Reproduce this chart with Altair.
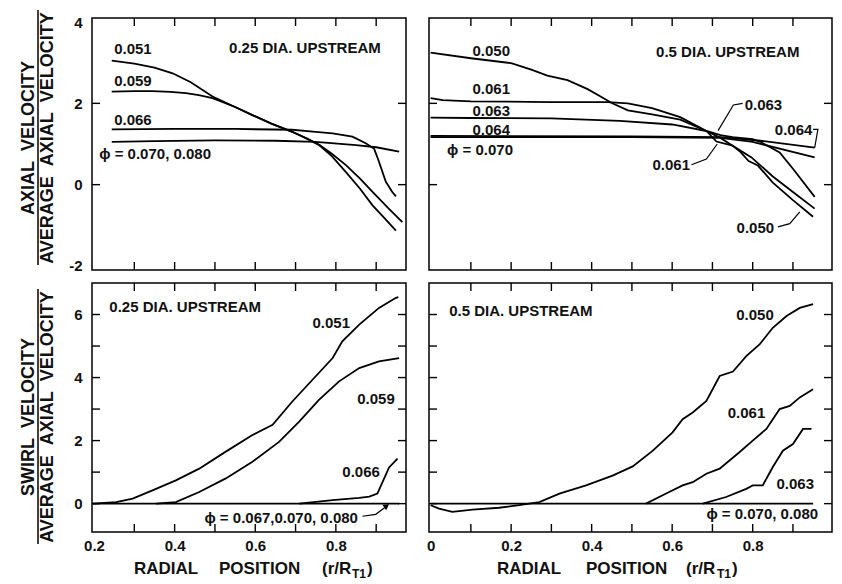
import altair as alt
import pandas as pd

FONT = "Liberation Sans"
NB = "\u00a0"

# ---------------- data: top-left (axial, 0.25 dia upstream) ----------------
tl_051_x = [0.244, 0.30, 0.35, 0.395, 0.44, 0.494, 0.55, 0.593, 0.64, 0.692, 0.73, 0.759, 0.79, 0.825, 0.86, 0.891, 0.92, 0.949]
tl_051_y = [3.05, 2.98, 2.88, 2.74, 2.52, 2.17, 1.91, 1.71, 1.50, 1.30, 1.12, 0.97, 0.70, 0.31, -0.10, -0.51, -0.82, -1.13]
tl_059_x = [0.244, 0.30, 0.345, 0.39, 0.428, 0.46, 0.494, 0.55, 0.593, 0.64, 0.692, 0.73, 0.759, 0.79, 0.825, 0.86, 0.891, 0.93, 0.965]
tl_059_y = [2.29, 2.30, 2.30, 2.28, 2.25, 2.20, 2.13, 1.91, 1.71, 1.50, 1.30, 1.13, 0.98, 0.76, 0.48, 0.15, -0.18, -0.58, -0.92]
tl_066_x = [0.244, 0.40, 0.55, 0.692, 0.75, 0.792, 0.841, 0.874, 0.895, 0.905, 0.924, 0.94, 0.949]
tl_066_y = [1.36, 1.37, 1.37, 1.35, 1.30, 1.26, 1.18, 1.02, 0.88, 0.62, 0.07, -0.18, -0.29]
tl_070_x = [0.244, 0.35, 0.50, 0.65, 0.75, 0.85, 0.90, 0.957]
tl_070_y = [1.05, 1.07, 1.09, 1.08, 1.05, 0.97, 0.92, 0.81]

# ---------------- data: top-right (axial, 0.5 dia upstream) ----------------
tr_050_x = [0.0, 0.10, 0.20, 0.25, 0.29, 0.34, 0.39, 0.42, 0.45, 0.49, 0.55, 0.62, 0.685, 0.72, 0.75, 0.77, 0.79, 0.813, 0.85, 0.90, 0.95]
tr_050_y = [3.25, 3.11, 2.99, 2.83, 2.68, 2.57, 2.35, 2.18, 2.01, 1.83, 1.73, 1.60, 1.32, 1.15, 0.96, 0.80, 0.58, 0.47, 0.05, -0.38, -0.79]
tr_061_x = [0.0, 0.03, 0.10, 0.30, 0.44, 0.49, 0.55, 0.62, 0.685, 0.71, 0.75, 0.797, 0.85, 0.90, 0.954]
tr_061_y = [2.13, 2.08, 2.05, 2.03, 2.03, 2.00, 1.88, 1.66, 1.32, 1.06, 0.96, 0.67, 0.20, -0.18, -0.59]
tr_063_x = [0.0, 0.10, 0.30, 0.47, 0.60, 0.685, 0.72, 0.75, 0.80, 0.82, 0.867, 0.90, 0.954]
tr_063_y = [1.65, 1.64, 1.63, 1.57, 1.48, 1.32, 1.22, 1.17, 1.12, 1.05, 0.79, 0.39, -0.30]
tr_064_x = [0.0, 0.50, 0.72, 0.82, 0.954]
tr_064_y = [1.20, 1.19, 1.17, 1.08, 0.91]
tr_070_x = [0.0, 0.50, 0.72, 0.80, 0.954]
tr_070_y = [1.17, 1.17, 1.15, 1.05, 0.67]

# ---------------- data: bottom-left (swirl, 0.25 dia upstream) ----------------
bl_051_x = [0.197, 0.255, 0.296, 0.345, 0.403, 0.461, 0.527, 0.593, 0.643, 0.692, 0.742, 0.792, 0.816, 0.858, 0.907, 0.949, 0.955]
bl_051_y = [0.0, 0.05, 0.16, 0.42, 0.74, 1.11, 1.65, 2.18, 2.50, 3.24, 3.93, 4.62, 5.15, 5.68, 6.21, 6.53, 6.55]
bl_059_x = [0.354, 0.403, 0.461, 0.527, 0.593, 0.659, 0.709, 0.758, 0.808, 0.858, 0.907, 0.957]
bl_059_y = [0.0, 0.05, 0.37, 0.80, 1.33, 1.96, 2.60, 3.29, 3.88, 4.30, 4.51, 4.62]
bl_066_x = [0.709, 0.792, 0.858, 0.883, 0.903, 0.916, 0.932, 0.953]
bl_066_y = [0.0, 0.11, 0.18, 0.22, 0.32, 0.69, 1.15, 1.43]
bl_067_x = [0.197, 0.957]
bl_067_y = [0.0, 0.0]

# ---------------- data: bottom-right (swirl, 0.5 dia upstream) ----------------
br_050_x = [0.0, 0.021, 0.054, 0.104, 0.17, 0.22, 0.27, 0.32, 0.386, 0.452, 0.502, 0.552, 0.601, 0.626, 0.651, 0.685, 0.718, 0.751, 0.784, 0.817, 0.85, 0.884, 0.917, 0.95]
br_050_y = [-0.05, -0.16, -0.26, -0.19, -0.13, -0.05, 0.05, 0.32, 0.58, 0.89, 1.18, 1.68, 2.26, 2.68, 2.89, 3.26, 4.05, 4.19, 4.68, 5.05, 5.58, 5.95, 6.21, 6.33]
br_061_x = [0.535, 0.585, 0.626, 0.651, 0.685, 0.718, 0.767, 0.80, 0.834, 0.867, 0.892, 0.917, 0.95]
br_061_y = [0.0, 0.32, 0.58, 0.68, 0.95, 1.11, 1.63, 2.00, 2.37, 3.00, 3.10, 3.37, 3.63]
br_063_x = [0.676, 0.734, 0.784, 0.80, 0.825, 0.85, 0.875, 0.90, 0.925, 0.946]
br_063_y = [0.0, 0.21, 0.47, 0.58, 0.58, 1.16, 1.68, 1.89, 2.37, 2.37]
br_070_x = [0.0, 0.95]
br_070_y = [0.0, 0.0]

# ---------------- annotation texts (text, x, y in data units) ----------------
tl_labels = [("0.051", 0.25, 3.34), ("0.059", 0.25, 2.54), ("0.066", 0.25, 1.60),
             ("\u03d5 = 0.070, 0.080", 0.213, 0.76), ("0.25 DIA. UPSTREAM", 0.535, 3.35)]
tr_labels = [("0.050", 0.104, 3.28), ("0.061", 0.104, 2.35), ("0.063", 0.104, 1.82),
             ("0.064", 0.104, 1.35), ("\u03d5 = 0.070", 0.041, 0.85), ("0.5 DIA. UPSTREAM", 0.56, 3.26),
             ("0.063", 0.78, 1.96), ("0.061", 0.551, 0.49), ("0.064", 0.855, 1.35), ("0.050", 0.76, -1.06)]
bl_labels = [("0.25 DIA. UPSTREAM", 0.238, 6.24), ("0.051", 0.742, 5.73), ("0.059", 0.853, 3.32),
             ("0.066", 0.816, 1.01), ("\u03d5 = 0.067,0.070, 0.080", 0.474, -0.45)]
br_labels = [("0.5 DIA. UPSTREAM", 0.046, 6.10), ("0.050", 0.759, 5.97), ("0.061", 0.738, 2.87),
             ("0.063", 0.859, 0.63), ("\u03d5 = 0.070, 0.080", 0.685, -0.34)]

# leader lines (data units)
tr_leaders = [("a", [0.775, 0.752, 0.714], [2.00, 1.96, 1.33]),
              ("b", [0.648, 0.685, 0.712], [0.49, 0.63, 1.00]),
              ("c", [0.950, 0.962, 0.954], [1.36, 1.36, 0.91]),
              ("d", [0.863, 0.892, 0.917], [-1.04, -0.96, -0.67])]
bl_leaders = [("a", [0.866, 0.899, 0.924], [-0.40, -0.34, -0.10])]
bl_arrow = [(0.926, -0.07)]

# axis ticks / labels
x_ticks_left = [0.3, 0.4, 0.5, 0.6, 0.7, 0.8, 0.9]
x_ticks_right = [0.1, 0.2, 0.3, 0.4, 0.5, 0.6, 0.7, 0.8, 0.9]
x_labels_left = [0.2, 0.4, 0.6, 0.8]
x_labels_right = [0.0, 0.2, 0.4, 0.6, 0.8, 1.0]
y_ticks_top = [0, 2]
y_labels_top = [-2, 0, 2, 4]
y_ticks_bottom = [0, 1, 2, 3, 4, 5, 6]
y_labels_bottom = [0, 2, 4, 6]

x_dom_left = [0.195, 0.974]
x_dom_right = [-0.004, 0.997]
y_dom_top = [-2.1, 4.1]
y_dom_bottom = [-0.9, 7.0]

title_top = ["AXIAL" + NB * 2 + "VELOCITY", "AVERAGE" + NB * 2 + "AXIAL" + NB * 2 + "VELOCITY"]
title_bottom = ["SWIRL" + NB * 2 + "VELOCITY", "AVERAGE" + NB * 2 + "AXIAL" + NB * 2 + "VELOCITY"]
x_title_parts = [("RADIAL", 0), ("POSITION", 1), ("(r/R", 2), ("T1", 3), (")", 4)]


def curves_df(curves):
    rows = []
    for name, xs, ys in curves:
        for i, (a, b) in enumerate(zip(xs, ys)):
            rows.append({"series": name, "i": i, "x": a, "y": b})
    return pd.DataFrame(rows)


def panel(curves, labels, leaders, xdom, ydom, w, h, xticks, yticks,
          xlabels=None, ylabels=None, ytitle=None, xtitle_pos=None, flush=False,
          arrow=None):
    xs = alt.Scale(domain=xdom, nice=False, zero=False)
    ys = alt.Scale(domain=ydom, nice=False, zero=False)
    if xlabels is None:
        xa = None
    else:
        xa = alt.Axis(values=xlabels, ticks=False, domain=False, grid=False, title=None,
                      labelPadding=6, labelFlush=flush, labelFont=FONT, labelFontSize=15,
                      labelFontWeight="bold", labelColor="#111",
                      labelExpr="datum.value == 0 ? '0' : format(datum.value, '.1f')")
    if ylabels is None:
        ya = None
    else:
        ya = alt.Axis(values=ylabels, ticks=False, domain=False, grid=False, title=None,
                      labelPadding=10, labelFont=FONT, labelFontSize=15, labelFontWeight="bold",
                      labelColor="#111", labelExpr="'' + datum.value")

    def X(f="x"):
        return alt.X(f + ":Q", scale=xs, axis=xa)

    def Y(f="y"):
        return alt.Y(f + ":Q", scale=ys, axis=ya)

    layers = []
    layers.append(alt.Chart(curves_df(curves)).mark_line(color="black", strokeWidth=1.8)
                  .encode(x=X(), y=Y(), detail="series:N", order="i:Q"))
    if leaders:
        layers.append(alt.Chart(curves_df(leaders)).mark_line(color="black", strokeWidth=1.2)
                      .encode(x=X(), y=Y(), detail="series:N", order="i:Q"))
    if arrow:
        adf = pd.DataFrame({"x": [a[0] for a in arrow], "y": [a[1] for a in arrow]})
        layers.append(alt.Chart(adf).mark_point(shape="triangle-up", filled=True, color="black",
                                                size=45, angle=55, opacity=1)
                      .encode(x=X(), y=Y()))
    ldf = pd.DataFrame({"t": [l[0] for l in labels], "x": [l[1] for l in labels],
                        "y": [l[2] for l in labels]})
    layers.append(alt.Chart(ldf).mark_text(align="left", baseline="middle", font=FONT,
                                           fontSize=15, fontWeight="bold", color="#111")
                  .encode(x=X(), y=Y(), text="t:N"))
    xt = pd.DataFrame({"x": xticks})
    yt = pd.DataFrame({"y": yticks})
    tick = dict(color="black", strokeWidth=1.4)
    layers.append(alt.Chart(xt).mark_rule(**tick).encode(x=X(), y=alt.value(0), y2=alt.value(8)))
    layers.append(alt.Chart(xt).mark_rule(**tick).encode(x=X(), y=alt.value(h), y2=alt.value(h - 8)))
    layers.append(alt.Chart(yt).mark_rule(**tick).encode(y=Y(), x=alt.value(0), x2=alt.value(8)))
    layers.append(alt.Chart(yt).mark_rule(**tick).encode(y=Y(), x=alt.value(w - 8), x2=alt.value(w)))

    if ytitle is not None:
        cy = ytitle[1]
        layers.append(alt.Chart(pd.DataFrame({"t": [ytitle[0][0]]})).mark_text(
            angle=270, font=FONT, fontSize=18, fontWeight="bold", align="center",
            baseline="middle", color="#111")
            .encode(text="t:N", x=alt.value(-63), y=alt.value(cy)))
        layers.append(alt.Chart(pd.DataFrame({"t": [ytitle[0][1]]})).mark_text(
            angle=270, font=FONT, fontSize=18, fontWeight="bold", align="center",
            baseline="middle", color="#111")
            .encode(text="t:N", x=alt.value(-44), y=alt.value(cy)))
        layers.append(alt.Chart(pd.DataFrame({"t": [0]})).mark_rule(color="black", strokeWidth=1.5)
                      .encode(x=alt.value(-54), y=alt.value(cy - 128), y2=alt.value(cy + 127)))
    if xtitle_pos is not None:
        for (txt, k) in x_title_parts:
            dx = xtitle_pos[k]
            sub = txt == "T1"
            layers.append(alt.Chart(pd.DataFrame({"t": [txt]})).mark_text(
                align="left", baseline="middle", font=FONT, fontSize=12 if sub else 17,
                fontWeight="bold", color="#111")
                .encode(text="t:N", x=alt.value(dx), y=alt.value(h + (42 if sub else 37))))
    return alt.layer(*layers).properties(width=w, height=h)


tl = panel([("0.051", tl_051_x, tl_051_y), ("0.059", tl_059_x, tl_059_y),
            ("0.066", tl_066_x, tl_066_y), ("0.070", tl_070_x, tl_070_y)],
           tl_labels, None, x_dom_left, y_dom_top, 314, 252, x_ticks_left, y_ticks_top,
           ylabels=y_labels_top, ytitle=(title_top, 120))
tr = panel([("0.050", tr_050_x, tr_050_y), ("0.061", tr_061_x, tr_061_y),
            ("0.063", tr_063_x, tr_063_y), ("0.064", tr_064_x, tr_064_y),
            ("0.070", tr_070_x, tr_070_y)],
           tr_labels, tr_leaders, x_dom_right, y_dom_top, 403, 252, x_ticks_right, y_ticks_top)
bl = panel([("0.051", bl_051_x, bl_051_y), ("0.059", bl_059_x, bl_059_y),
            ("0.066", bl_066_x, bl_066_y), ("0.067", bl_067_x, bl_067_y)],
           bl_labels, bl_leaders, x_dom_left, y_dom_bottom, 314, 249, x_ticks_left, y_ticks_bottom,
           xlabels=x_labels_left, ylabels=y_labels_bottom, ytitle=(title_bottom, 134),
           xtitle_pos=[42, 127, 230, 260, 275], arrow=bl_arrow)
br = panel([("0.050", br_050_x, br_050_y), ("0.061", br_061_x, br_061_y),
            ("0.063", br_063_x, br_063_y), ("0.070", br_070_x, br_070_y)],
           br_labels, None, x_dom_right, y_dom_bottom, 403, 249, x_ticks_right, y_ticks_bottom,
           xlabels=x_labels_right, xtitle_pos=[68, 157, 257, 288, 303], flush=True)

chart = (alt.concat(tl, tr, bl, br, columns=2, spacing={"row": 13, "column": 23}, bounds="flush")
         .properties(padding={"left": 11, "top": 0, "right": 0, "bottom": 4}, background="white")
         .configure_view(stroke="black", strokeWidth=1.5)
         .configure_axis(labelFont=FONT))

chart.save("out.html", embed_options={"renderer": "svg", "actions": False})
